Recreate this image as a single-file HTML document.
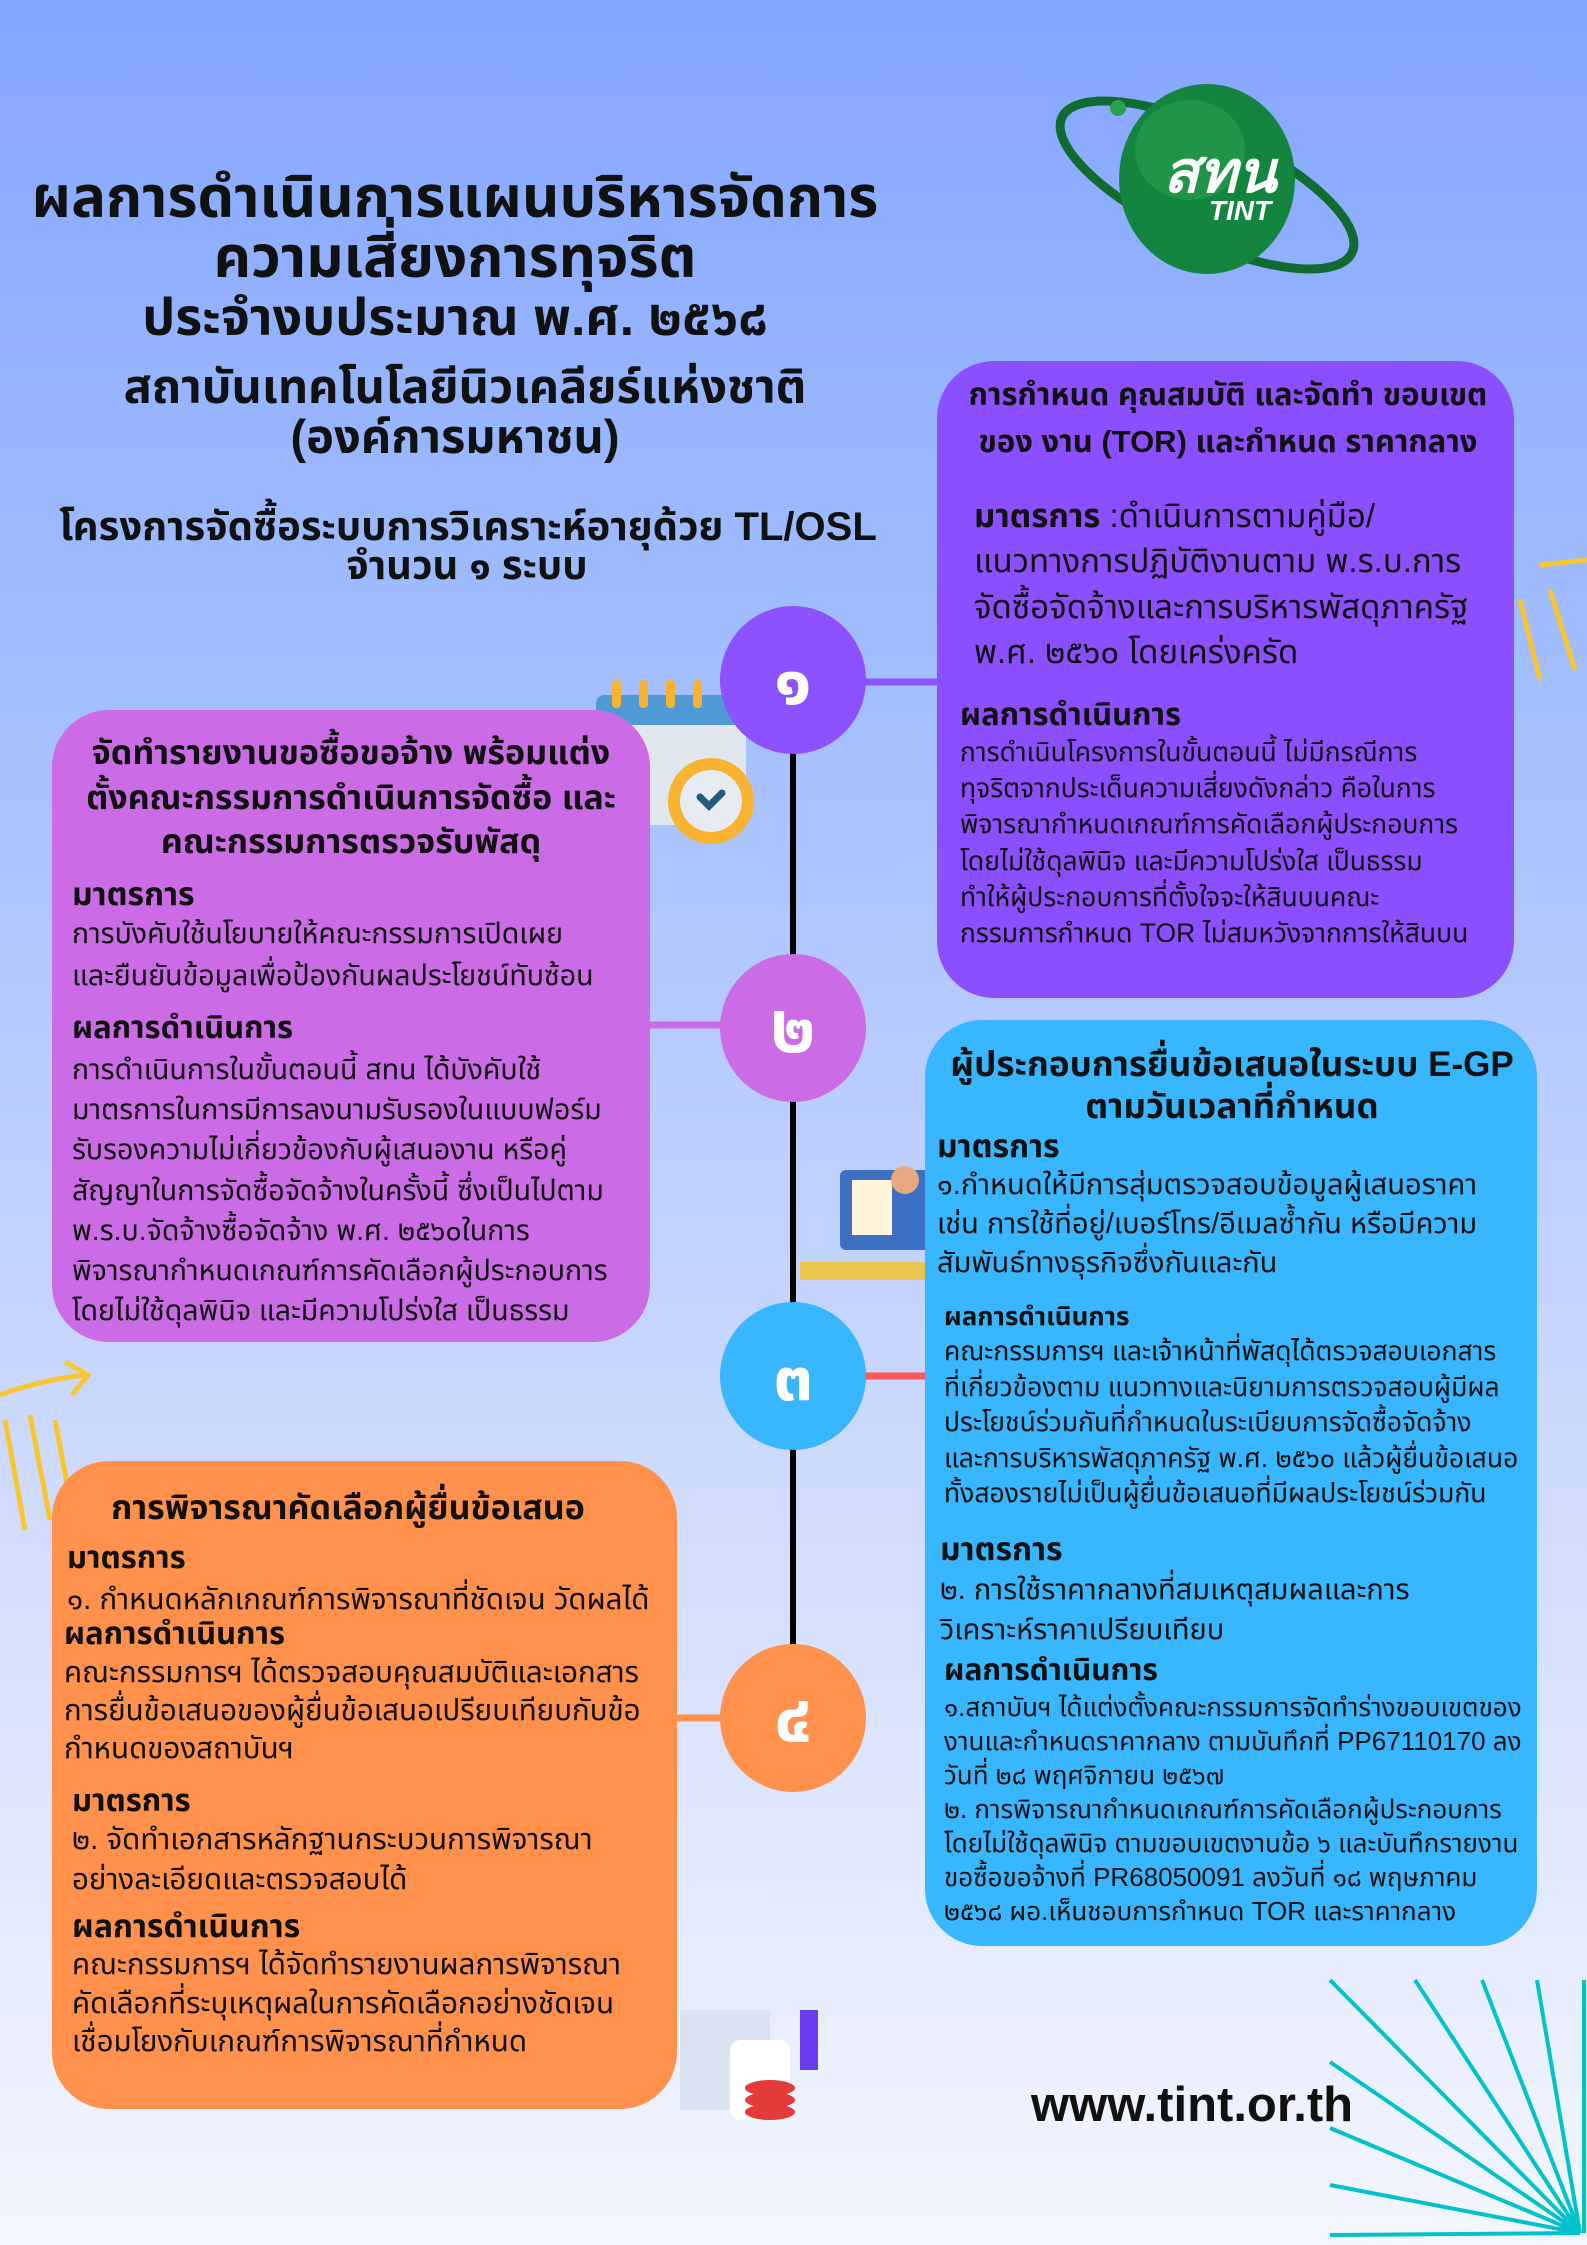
<!DOCTYPE html>
<html><head><meta charset="utf-8">
<style>
*{margin:0;padding:0;box-sizing:border-box}
body{width:1587px;height:2245px;position:relative;overflow:hidden;font-family:"Liberation Sans","Noto Sans Thai","Loma","Garuda",sans-serif;background:linear-gradient(180deg,#84a6ff 0%,#a8c2ff 35%,#d4defd 70%,#f4f6ff 100%);color:#111}
.l{position:absolute;white-space:nowrap;height:40px;line-height:40px}
.c{transform:translateX(-50%)}
.b{font-weight:bold}
.box{position:absolute;border-radius:57px}
.circ{position:absolute;border-radius:50%;color:#fff;font-size:70px;font-weight:bold;text-align:center}
div{white-space:nowrap}
</style></head><body>
<svg style="position:absolute;left:0;top:0" width="1587" height="2245">
<line x1="793" y1="680" x2="793" y2="1720" stroke="#000" stroke-width="6"/>
<line x1="860" y1="682" x2="940" y2="682" stroke="#8c52ff" stroke-width="7"/>
<line x1="650" y1="1025" x2="730" y2="1025" stroke="#cb6ce6" stroke-width="7"/>
<line x1="860" y1="1376" x2="930" y2="1376" stroke="#ff5757" stroke-width="7"/>
<line x1="675" y1="1718" x2="730" y2="1718" stroke="#ff914d" stroke-width="7"/>
<ellipse cx="1207" cy="185" rx="160" ry="55" transform="rotate(25 1207 185)" fill="none" stroke="#0f6b30" stroke-width="9"/>
<ellipse cx="1207" cy="179" rx="88" ry="95" fill="#13853f"/>
<ellipse cx="1190" cy="150" rx="55" ry="50" fill="#2aa04f" opacity=".6"/>
<circle cx="1118" cy="108" r="8" fill="#2aa04f"/>
<text x="1220" y="192" font-family="Liberation Sans,sans-serif" font-style="italic" font-weight="bold" font-size="58" fill="#fff" text-anchor="middle">สทน</text>
<text x="1240" y="220" font-family="Liberation Sans,sans-serif" font-style="italic" font-weight="bold" font-size="28" fill="#fff" text-anchor="middle">TINT</text>
<rect x="596" y="695" width="150" height="130" rx="8" fill="#e1e7ef"/>
<rect x="596" y="695" width="150" height="30" rx="8" fill="#4f9ad6"/>
<g fill="#f8b431"><rect x="612" y="680" width="9" height="28" rx="4"/><rect x="639" y="680" width="9" height="28" rx="4"/><rect x="666" y="680" width="9" height="28" rx="4"/><rect x="693" y="680" width="9" height="28" rx="4"/></g>
<circle cx="711" cy="801" r="43" fill="#f8b431"/><circle cx="711" cy="801" r="31" fill="#e6ecf2"/>
<path d="M700 797 L709 806 L722 793" stroke="#235a80" stroke-width="7" fill="none" stroke-linecap="round"/>
<rect x="840" y="1170" width="90" height="80" rx="6" fill="#3d6fc4"/>
<rect x="852" y="1180" width="40" height="55" fill="#fff5d9"/>
<circle cx="905" cy="1180" r="14" fill="#e8a77c"/>
<rect x="800" y="1262" width="125" height="18" fill="#e8c451"/>
<rect x="680" y="2010" width="90" height="100" fill="#d9e3f1"/>
<rect x="730" y="2040" width="60" height="80" rx="10" fill="#fff"/>
<g fill="#e33a3a"><ellipse cx="770" cy="2100" rx="25" ry="8"/><ellipse cx="770" cy="2112" rx="25" ry="8"/><ellipse cx="770" cy="2088" rx="25" ry="8"/></g>
<rect x="800" y="2010" width="18" height="60" fill="#6a3cf0"/>
<g stroke="#f8c630" stroke-width="5" fill="none">
<path d="M0 1395 Q40 1380 85 1375 M65 1362 L88 1375 L72 1395"/>
<path d="M5 1420 L25 1530 M30 1415 L50 1520 M55 1420 L70 1500"/>
<path d="M1540 565 L1587 560 M1520 600 L1540 680 M1550 590 L1575 670"/>
</g>
<g stroke="#00c2cb" stroke-width="4">
<line x1="1580" y1="2233" x2="1330" y2="1980"/><line x1="1580" y1="2233" x2="1415" y2="1980"/>
<line x1="1580" y1="2233" x2="1482" y2="1980"/><line x1="1580" y1="2233" x2="1537" y2="1980"/>
<line x1="1584" y1="2233" x2="1584" y2="1980"/><line x1="1580" y1="2233" x2="1330" y2="2062"/>
<line x1="1580" y1="2233" x2="1330" y2="2128"/><line x1="1580" y1="2233" x2="1330" y2="2185"/>
<line x1="1580" y1="2233" x2="1330" y2="2235"/>
</g>
</svg>

<div class="l c b" style="left:455px;top:168px;font-size:58px;height:60px;line-height:60px">ผลการดำเนินการแผนบริหารจัดการ</div>
<div class="l c b" style="left:455px;top:228px;font-size:58px;height:60px;line-height:60px">ความเสี่ยงการทุจริต</div>
<div class="l c b" style="left:455px;top:291px;font-size:52px;height:54px;line-height:54px">ประจำงบประมาณ พ.ศ. ๒๕๖๘</div>
<div class="l c b" style="left:465px;top:360px;font-size:47px;height:54px;line-height:54px">สถาบันเทคโนโลยีนิวเคลียร์แห่งชาติ</div>
<div class="l c b" style="left:455px;top:410px;font-size:47px;height:54px;line-height:54px">(องค์การมหาชน)</div>
<div class="l c b" style="left:468px;top:507px;font-size:40px">โครงการจัดซื้อระบบการวิเคราะห์อายุด้วย TL/OSL</div>
<div class="l c b" style="left:467px;top:546px;font-size:40px">จำนวน ๑ ระบบ</div>

<div class="box" style="left:937px;top:361px;width:577px;height:637px;background:#8c4fff"></div>
<div class="l c b" style="left:1228px;top:375px;font-size:31px">การกำหนด คุณสมบัติ และจัดทำ ขอบเขต</div>
<div class="l c b" style="left:1228px;top:422px;font-size:31px">ของ งาน (TOR) และกำหนด ราคากลาง</div>
<div style="position:absolute;left:974px;top:493px;font-size:33px;line-height:45.3px"><b>มาตรการ</b> :ดำเนินการตามคู่มือ/<br>แนวทางการปฏิบัติงานตาม พ.ร.บ.การ<br>จัดซื้อจัดจ้างและการบริหารพัสดุภาครัฐ<br>พ.ศ. ๒๕๖๐ โดยเคร่งครัด</div>
<div class="l b" style="left:960px;top:695px;font-size:31px">ผลการดำเนินการ</div>
<div style="position:absolute;left:960px;top:734px;font-size:26.5px;line-height:36.2px">การดำเนินโครงการในขั้นตอนนี้ ไม่มีกรณีการ<br>ทุจริตจากประเด็นความเสี่ยงดังกล่าว คือในการ<br>พิจารณากำหนดเกณฑ์การคัดเลือกผู้ประกอบการ<br>โดยไม่ใช้ดุลพินิจ และมีความโปร่งใส เป็นธรรม<br>ทำให้ผู้ประกอบการที่ตั้งใจจะให้สินบนคณะ<br>กรรมการกำหนด TOR ไม่สมหวังจากการให้สินบน</div>

<div class="box" style="left:52px;top:710px;width:598px;height:632px;background:#cb6ce6"></div>
<div class="l c b" style="left:351px;top:733px;font-size:34px">จัดทำรายงานขอซื้อขอจ้าง พร้อมแต่ง</div>
<div class="l c b" style="left:351px;top:778px;font-size:34px">ตั้งคณะกรรมการดำเนินการจัดซื้อ และ</div>
<div class="l c b" style="left:351px;top:822px;font-size:34px">คณะกรรมการตรวจรับพัสดุ</div>
<div class="l b" style="left:72px;top:874px;font-size:32px">มาตรการ</div>
<div style="position:absolute;left:72px;top:913px;font-size:28.5px;line-height:42px">การบังคับใช้นโยบายให้คณะกรรมการเปิดเผย<br>และยืนยันข้อมูลเพื่อป้องกันผลประโยชน์ทับซ้อน</div>
<div class="l b" style="left:72px;top:1008px;font-size:31px">ผลการดำเนินการ</div>
<div style="position:absolute;left:72px;top:1050px;font-size:28.5px;line-height:40.2px">การดำเนินการในขั้นตอนนี้ สทน ได้บังคับใช้<br>มาตรการในการมีการลงนามรับรองในแบบฟอร์ม<br>รับรองความไม่เกี่ยวข้องกับผู้เสนองาน หรือคู่<br>สัญญาในการจัดซื้อจัดจ้างในครั้งนี้ ซึ่งเป็นไปตาม<br>พ.ร.บ.จัดจ้างซื้อจัดจ้าง พ.ศ. ๒๕๖๐ในการ<br>พิจารณากำหนดเกณฑ์การคัดเลือกผู้ประกอบการ<br>โดยไม่ใช้ดุลพินิจ และมีความโปร่งใส เป็นธรรม</div>

<div class="box" style="left:925px;top:1020px;width:612px;height:926px;background:#38b6ff"></div>
<div class="l c b" style="left:1232px;top:1045px;font-size:35px">ผู้ประกอบการยื่นข้อเสนอในระบบ E-GP</div>
<div class="l c b" style="left:1232px;top:1087px;font-size:35px">ตามวันเวลาที่กำหนด</div>
<div class="l b" style="left:937px;top:1126px;font-size:32px">มาตรการ</div>
<div style="position:absolute;left:937px;top:1166px;font-size:29px;line-height:39px">๑.กำหนดให้มีการสุ่มตรวจสอบข้อมูลผู้เสนอราคา<br>เช่น การใช้ที่อยู่/เบอร์โทร/อีเมลซ้ำกัน หรือมีความ<br>สัมพันธ์ทางธุรกิจซึ่งกันและกัน</div>
<div class="l b" style="left:944px;top:1296px;font-size:26px">ผลการดำเนินการ</div>
<div style="position:absolute;left:944px;top:1334px;font-size:26.5px;line-height:35.5px">คณะกรรมการฯ และเจ้าหน้าที่พัสดุได้ตรวจสอบเอกสาร<br>ที่เกี่ยวข้องตาม แนวทางและนิยามการตรวจสอบผู้มีผล<br>ประโยชน์ร่วมกันที่กำหนดในระเบียบการจัดซื้อจัดจ้าง<br>และการบริหารพัสดุภาครัฐ พ.ศ. ๒๕๖๐ แล้วผู้ยื่นข้อเสนอ<br>ทั้งสองรายไม่เป็นผู้ยื่นข้อเสนอที่มีผลประโยชน์ร่วมกัน</div>
<div class="l b" style="left:940px;top:1529px;font-size:32px">มาตรการ</div>
<div style="position:absolute;left:940px;top:1570px;font-size:29px;line-height:40px">๒. การใช้ราคากลางที่สมเหตุสมผลและการ<br>วิเคราะห์ราคาเปรียบเทียบ</div>
<div class="l b" style="left:944px;top:1651px;font-size:30px">ผลการดำเนินการ</div>
<div style="position:absolute;left:944px;top:1690px;font-size:26px;line-height:34px">๑.สถาบันฯ ได้แต่งตั้งคณะกรรมการจัดทำร่างขอบเขตของ<br>งานและกำหนดราคากลาง ตามบันทึกที่ PP67110170 ลง<br>วันที่ ๒๘ พฤศจิกายน ๒๕๖๗<br>๒. การพิจารณากำหนดเกณฑ์การคัดเลือกผู้ประกอบการ<br>โดยไม่ใช้ดุลพินิจ ตามขอบเขตงานข้อ ๖ และบันทึกรายงาน<br>ขอซื้อขอจ้างที่ PR68050091 ลงวันที่ ๑๘ พฤษภาคม<br>๒๕๖๘ ผอ.เห็นชอบการกำหนด TOR และราคากลาง</div>

<div class="box" style="left:52px;top:1461px;width:625px;height:648px;background:#ff914d"></div>
<div class="l c b" style="left:348px;top:1488px;font-size:34px">การพิจารณาคัดเลือกผู้ยื่นข้อเสนอ</div>
<div class="l b" style="left:67px;top:1538px;font-size:31px">มาตรการ</div>
<div class="l" style="left:67px;top:1580px;font-size:29.5px">๑. กำหนดหลักเกณฑ์การพิจารณาที่ชัดเจน วัดผลได้</div>
<div class="l b" style="left:64px;top:1614px;font-size:31px">ผลการดำเนินการ</div>
<div style="position:absolute;left:64px;top:1654px;font-size:29.5px;line-height:38px">คณะกรรมการฯ ได้ตรวจสอบคุณสมบัติและเอกสาร<br>การยื่นข้อเสนอของผู้ยื่นข้อเสนอเปรียบเทียบกับข้อ<br>กำหนดของสถาบันฯ</div>
<div class="l b" style="left:72px;top:1781px;font-size:31px">มาตรการ</div>
<div style="position:absolute;left:72px;top:1820px;font-size:29.5px;line-height:40px">๒. จัดทำเอกสารหลักฐานกระบวนการพิจารณา<br>อย่างละเอียดและตรวจสอบได้</div>
<div class="l b" style="left:72px;top:1906px;font-size:32px">ผลการดำเนินการ</div>
<div style="position:absolute;left:72px;top:1946px;font-size:29.5px;line-height:38.5px">คณะกรรมการฯ ได้จัดทำรายงานผลการพิจารณา<br>คัดเลือกที่ระบุเหตุผลในการคัดเลือกอย่างชัดเจน<br>เชื่อมโยงกับเกณฑ์การพิจารณาที่กำหนด</div>

<div class="circ" style="left:720px;top:606px;width:146px;height:148px;line-height:148px;background:#8c52ff">๑</div>
<div class="circ" style="left:720px;top:954px;width:146px;height:148px;line-height:148px;background:#cb6ce6">๒</div>
<div class="circ" style="left:720px;top:1302px;width:146px;height:148px;line-height:148px;background:#38b6ff">๓</div>
<div class="circ" style="left:720px;top:1644px;width:146px;height:148px;line-height:148px;background:#ff914d">๔</div>

<div class="l b" style="left:1031px;top:2078px;font-size:49px;height:54px;line-height:54px">www.tint.or.th</div>
</body></html>
